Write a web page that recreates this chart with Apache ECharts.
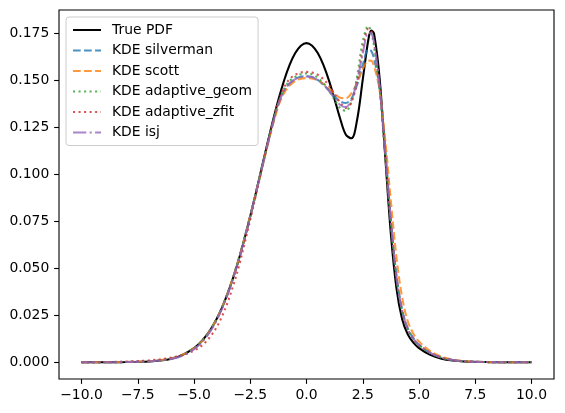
<!DOCTYPE html>
<html>
<head>
<meta charset="utf-8">
<script src="https://cdn.jsdelivr.net/npm/echarts@6/dist/echarts.min.js"></script>
<style>
html,body{margin:0;padding:0;background:#fff;}
#chart{width:565px;height:413px;}
</style>
</head>
<body>
<div id="chart"></div>
<script>
// x grid shared by all curves
var xs = [-10,-9,-8,-7,-6.5,-6,-5.5,-5,-4.75,-4.5,-4.25,-4,-3.75,-3.5,-3.25,-3,-2.75,-2.5,-2.25,-2,-1.75,-1.5,-1.25,-1,-0.75,-0.5,-0.25,0,0.25,0.5,0.75,1,1.25,1.5,1.75,2,2.25,2.5,2.75,2.875,3,3.25,3.5,3.75,4,4.25,4.5,4.75,5,5.5,6,6.5,7,8,9,10];

var truePdf = [0.0000,0.0000,0.0001,0.0004,0.0009,0.0019,0.0039,0.0075,
  0.0101,0.0135,0.0177,0.0229,0.0292,0.0367,0.0453,0.0550,0.0659,0.0776,0.0900,0.1028,0.1156,0.1280,0.1395,0.1496,0.1580,0.1643,0.1682,
  0.1696,
  0.1682,0.1643,0.1580,0.1497,0.1397,0.1293,0.1209,0.1190,0.1289,0.1502,0.1715,
  0.1763,
  0.1747,0.1509,0.1093,0.0681,0.0392,0.0230,0.0148,0.0104,0.0075,
  0.0039,0.0019,0.0009,0.0004,
  0.0001,0.0000,0.0000];

var kdeSilverman = [0.0000,0.0000,0.0001,0.0005,0.0010,0.0020,0.0040,0.0074,
  0.0099,0.0132,0.0175,0.0228,0.0292,0.0368,0.0455,0.0553,0.0662,0.0778,0.0899,0.1025,0.1150,0.1268,0.1372,0.1440,0.1480,0.1505,0.1517,
  0.1520,
  0.1516,0.1500,0.1475,0.1445,0.1412,0.1386,0.1378,0.1402,0.1475,0.1580,0.1662,
  0.1655,
  0.1615,0.1455,0.1130,0.0760,0.0460,0.0280,0.0180,0.0128,0.0093,
  0.0050,0.0025,0.0012,0.0005,
  0.0001,0.0000,0.0000];

var kdeScott = [0.0000,0.0000,0.0001,0.0005,0.0011,0.0021,0.0041,0.0075,
  0.0100,0.0133,0.0176,0.0229,0.0293,0.0369,0.0456,0.0554,0.0662,0.0778,0.0898,0.1020,0.1143,0.1260,0.1362,0.1430,0.1470,0.1495,0.1507,
  0.1510,
  0.1508,0.1498,0.1480,0.1456,0.1428,0.1406,0.1403,0.1430,0.1487,0.1558,0.1603,
  0.1602,
  0.1575,0.1445,0.1180,0.0855,0.0555,0.0345,0.0218,0.0152,0.0110,
  0.0059,0.0029,0.0014,0.0006,
  0.0001,0.0000,0.0000];

var kdeAdaptiveGeom = [0.0000,0.0000,0.0001,0.0005,0.0010,0.0020,0.0040,0.0074,
  0.0099,0.0132,0.0175,0.0228,0.0292,0.0368,0.0455,0.0553,0.0662,0.0778,0.0899,0.1024,0.1150,0.1270,0.1380,0.1452,0.1495,0.1517,0.1530,
  0.1535,
  0.1530,0.1512,0.1482,0.1442,0.1395,0.1350,0.1336,0.1385,0.1520,0.1705,0.1787,
  0.1755,
  0.1680,0.1450,0.1100,0.0735,0.0445,0.0268,0.0174,0.0123,0.0091,
  0.0049,0.0024,0.0011,0.0005,
  0.0001,0.0000,0.0000];

var kdeAdaptiveZfit = [0.0000,0.0001,0.0004,0.0010,0.0016,0.0025,0.0038,0.0062,
  0.0080,0.0105,0.0140,0.0185,0.0245,0.0320,0.0410,0.0512,0.0632,0.0757,0.0888,0.1020,0.1150,0.1275,0.1383,0.1460,0.1505,0.1528,0.1540,
  0.1543,
  0.1540,0.1528,0.1505,0.1470,0.1426,0.1380,0.1352,0.1383,0.1490,0.1660,0.1772,
  0.1762,
  0.1700,0.1460,0.1102,0.0738,0.0447,0.0270,0.0175,0.0124,0.0091,
  0.0050,0.0025,0.0012,0.0005,
  0.0001,0.0000,0.0000];

var kdeIsj = [0.0000,0.0000,0.0001,0.0004,0.0009,0.0018,0.0036,0.0069,
  0.0094,0.0127,0.0169,0.0221,0.0285,0.0361,0.0449,0.0548,0.0658,0.0775,0.0897,0.1022,0.1146,0.1265,0.1373,0.1442,0.1482,0.1505,0.1516,
  0.1519,
  0.1515,0.1500,0.1476,0.1443,0.1403,0.1367,0.1356,0.1395,0.1495,0.1640,0.1750,
  0.1748,
  0.1700,0.1470,0.1112,0.0748,0.0452,0.0273,0.0177,0.0125,0.0092,
  0.0050,0.0025,0.0012,0.0005,
  0.0001,0.0000,0.0000];

var seriesNames = ['True PDF','KDE silverman','KDE scott','KDE adaptive_geom','KDE adaptive_zfit','KDE isj'];
var xTicks = [-10,-7.5,-5,-2.5,0,2.5,5,7.5,10];
var yTicks = [0,0.025,0.05,0.075,0.1,0.125,0.15,0.175];

var FONT = 'DejaVu Sans';
var LW = 2.08;
var styles = [
  {color:'#000000', type:'solid', opacity:1},
  {color:'#1f77b4', type:[7.7,3.33], opacity:0.8},
  {color:'#ff7f0e', type:[7.7,3.33], opacity:0.8},
  {color:'#2ca02c', type:[2.08,3.44], opacity:0.8},
  {color:'#d62728', type:[2.08,3.44], opacity:0.8},
  {color:'#9467bd', type:[13.3,3.33,2.08,3.33], opacity:0.8}
];
var values = [truePdf,kdeSilverman,kdeScott,kdeAdaptiveGeom,kdeAdaptiveZfit,kdeIsj];

function pairs(ys){ return xs.map(function(x,i){ return [x, ys[i]]; }); }

var series = values.map(function(ys, k){
  var s = styles[k];
  return {
    name: seriesNames[k],
    type: 'line',
    data: pairs(ys),
    symbol: 'none',
    showSymbol: false,
    smooth: 0.35,
    color: s.color,
    lineStyle: {color: s.color, width: LW, type: s.type, opacity: s.opacity, cap: 'butt'},
    itemStyle: {color: s.color, opacity: 0, borderWidth: 0},
    emphasis: {disabled: true},
    animation: false,
    z: 2 + k
  };
});

function fmtX(v){ return (v < 0 ? '\u2212' : '') + Math.abs(v).toFixed(1); }

var chart = echarts.init(document.getElementById('chart'), null, {renderer:'canvas'});
chart.setOption({
  animation: false,
  backgroundColor: '#ffffff',
  textStyle: {fontFamily: FONT},
  grid: {left: 59, right: 11, top: 10, bottom: 34, show: true, borderColor: '#000', borderWidth: 1.1, backgroundColor: 'transparent', containLabel: false},
  xAxis: {
    type: 'value', min: -11, max: 11,
    axisLine: {show: false, onZero: false},
    splitLine: {show: false},
    axisTick: {show: true, length: 4.86, lineStyle: {color: '#000', width: 1.1}, customValues: xTicks},
    axisLabel: {show: true, margin: 9.7, color: '#000', fontSize: 13.9, fontFamily: FONT, customValues: xTicks, formatter: fmtX}
  },
  yAxis: {
    type: 'value', min: -0.0089, max: 0.1872,
    axisLine: {show: false, onZero: false},
    splitLine: {show: false},
    axisTick: {show: true, length: 4.86, lineStyle: {color: '#000', width: 1.1}, customValues: yTicks},
    axisLabel: {show: true, margin: 9.7, color: '#000', fontSize: 13.9, fontFamily: FONT, customValues: yTicks, formatter: function(v){ return v.toFixed(3); }}
  },
  legend: {
    show: true,
    orient: 'vertical',
    left: 66, top: 17,
    padding: [6, 6, 6, 6],
    itemWidth: 28, itemHeight: 14, itemGap: 6.5,
    backgroundColor: 'rgba(255,255,255,0.8)',
    borderColor: '#cccccc', borderWidth: 1, borderRadius: 3,
    selectedMode: false,
    itemStyle: {opacity: 0, borderWidth: 0},
    textStyle: {color: '#000', fontSize: 13.9, fontFamily: FONT, lineHeight: 14, padding: [0, 0, 0, 6]},
    data: seriesNames
  },
  series: series
});
</script>
</body>
</html>
